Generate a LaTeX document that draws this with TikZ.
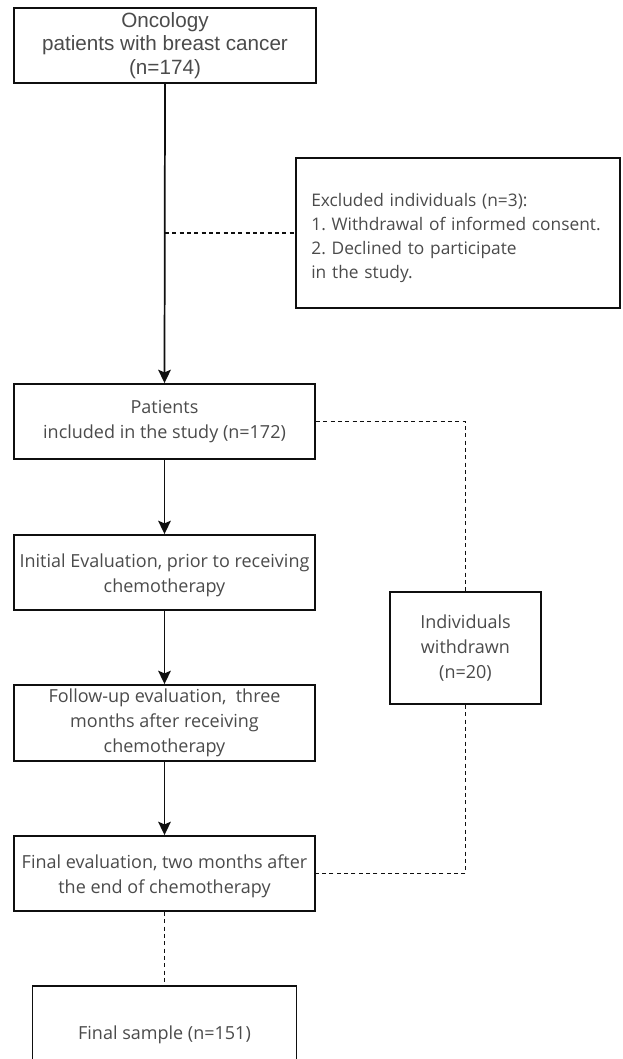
\documentclass[tikz,border=0pt]{standalone}
\usepackage{fontspec}
\setmainfont{Open Sans}
\newfontfamily\arialf{Liberation Sans}
\usetikzlibrary{arrows.meta}
\definecolor{txt}{RGB}{75,75,75}
\definecolor{ln}{RGB}{15,15,15}
\frenchspacing
\begin{document}
\begin{tikzpicture}[x=0.75pt,y=-0.75pt,
  box/.style={draw=ln,line width=1.4pt,fill=white,inner sep=0pt,align=center,text=txt,
    font=\fontsize{13.5}{18.75}\selectfont},
  solidarrow/.style={draw=ln,line width=1.3pt,-{Stealth[length=10pt,width=9.5pt,inset=2pt]}},
  dashline/.style={draw=ln,line width=1.3pt,dash pattern=on 3pt off 2.5pt}]
\clip (0,0) rectangle (623,1059);
\fill[white] (0,0) rectangle (623,1059);
\node[box,minimum width=226.5pt,minimum height=56.25pt,
  font=\arialf\fontsize{15.5}{17.5}\selectfont] (top) at (165,45.5)
  {Oncology\\patients with breast cancer\\(n=174)};
\node[box,minimum width=243pt,minimum height=112.5pt,text width=220pt,align=left,inner xsep=11.5pt,
  font=\fontsize{13}{18}\selectfont] (excl) at (458,233)
  {\rule{0pt}{18pt}Excluded individuals (n=3):\\1. Withdrawal of informed consent.\\2. Declined to participate\\in the study.};
\node[box,minimum width=225.75pt,minimum height=56.25pt] (pat) at (164.5,421.5)
  {Patients\\included in the study (n=172)};
\node[box,minimum width=225.75pt,minimum height=56.25pt] (init) at (164.5,572.5)
  {\rule{0pt}{15pt}Initial Evaluation, prior to receiving\\chemotherapy};
\node[box,minimum width=225.75pt,minimum height=57pt] (fol) at (164.5,723)
  {Follow-up evaluation,\ \ three\\months after receiving\\chemotherapy};
\node[box,minimum width=225.75pt,minimum height=56.25pt] (fe) at (164.5,873.5)
  {\rule{0pt}{15pt}Final evaluation, two months after\\the end of chemotherapy};
\node[box,minimum width=113.25pt,minimum height=84pt] (wd) at (465.5,648)
  {Individuals\\withdrawn\\(n=20)};
\node[box,minimum width=198pt,minimum height=73.5pt] (fs) at (164.5,1035)
  {Final sample (n=151)};
\coordinate (j) at (top.south |- excl.west);
\draw[solidarrow] (top.south) -- (pat.north);
\draw[dashline] (j) -- (excl.west);
\draw[solidarrow] (pat.south) -- (init.north);
\draw[solidarrow] (init.south) -- (fol.north);
\draw[solidarrow] (fol.south) -- (fe.north);
\draw[dashline] (pat.east) -| (wd.north);
\draw[dashline] (wd.south) |- (fe.east);
\draw[dashline] (fe.south) -- (fs.north);
\end{tikzpicture}
\end{document}
